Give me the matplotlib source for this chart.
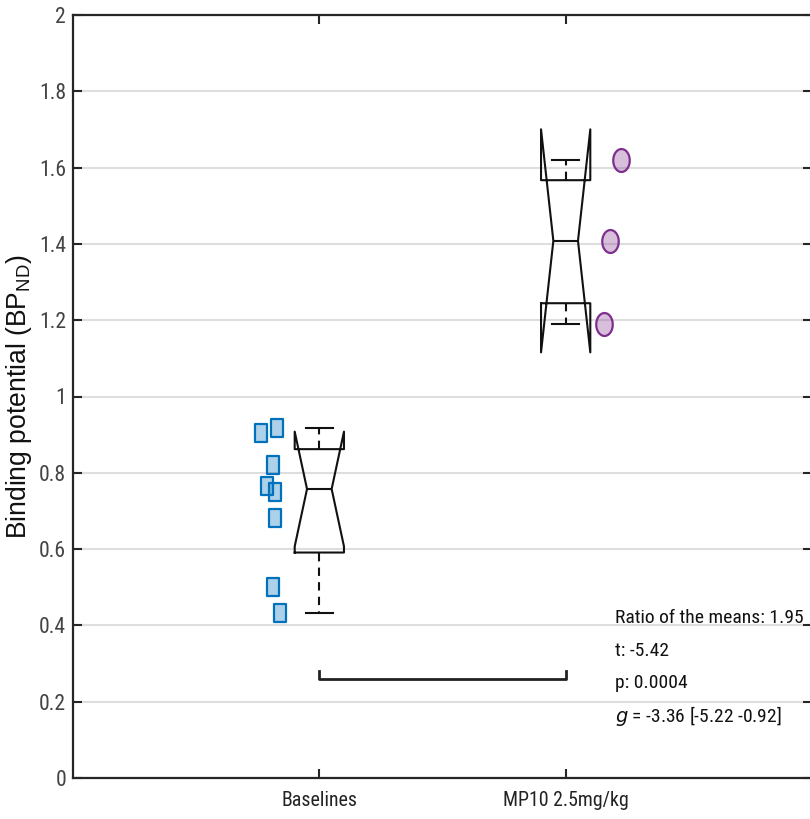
import os
import numpy as np
import matplotlib
matplotlib.use("Agg")
import matplotlib.pyplot as plt
from matplotlib.path import Path
from matplotlib import font_manager
from matplotlib.font_manager import FontProperties

# ---------------- data ----------------
categories = ["Baselines", "MP10 2.5mg/kg"]
baseline_vals = [0.904, 0.917, 0.820, 0.765, 0.750, 0.681, 0.501, 0.432]
baseline_x = [0.764, 0.829, 0.813, 0.789, 0.821, 0.821, 0.813, 0.841]
mp10_vals = [1.620, 1.408, 1.190]
mp10_x = [2.224, 2.179, 2.154]
sig_y = 0.26
stat_lines = ["Ratio of the means: 1.95", "t: -5.42", "p: 0.0004",
              r"$\mathit{g}$ = -3.36 [-5.22 -0.92]"]
yticks = [0, 0.2, 0.4, 0.6, 0.8, 1, 1.2, 1.4, 1.6, 1.8, 2]

# ---------------- fonts: prefer a narrow sans ----------------
files = [f.fname for f in font_manager.fontManager.ttflist]
def find(patterns):
    for p in patterns:
        for f in files:
            if os.path.basename(f).lower() == p.lower():
                return f
    return None

narrow_file = find(["LiberationSansNarrow-Regular.ttf", "NotoSans-Condensed.ttf",
                    "RobotoCondensed-Regular.ttf", "DejaVuSansCondensed.ttf"])
narrow_it_file = find(["LiberationSansNarrow-Italic.ttf", "NotoSans-CondensedItalic.ttf",
                       "RobotoCondensed-Italic.ttf", "DejaVuSansCondensed-Oblique.ttf"])
if narrow_file:
    fp_main = FontProperties(fname=narrow_file)
    narrow_name = fp_main.get_name()
else:
    fp_main = FontProperties(family=["Liberation Sans", "DejaVu Sans"])
    narrow_name = "Liberation Sans"

plt.rcParams["font.family"] = [narrow_name, "DejaVu Sans"]
plt.rcParams["mathtext.fontset"] = "custom"
plt.rcParams["mathtext.rm"] = "Liberation Sans"
plt.rcParams["mathtext.it"] = (FontProperties(fname=narrow_it_file).get_name() + ":italic"
                               if narrow_it_file else "Liberation Sans:italic")

fig = plt.figure(figsize=(8.1, 8.19), dpi=100)
ax = fig.add_axes([73 / 810, 1 - 778 / 819, (812 - 73) / 810, (778 - 15) / 819])


def matlab_stats(vals, label):
    v = np.asarray(vals)
    q1, med, q3 = np.percentile(v, [25, 50, 75], method="hazen")
    iqr = q3 - q1
    n = len(v)
    ci = 1.57 * iqr / np.sqrt(n)
    lo_lim, hi_lim = q1 - 1.5 * iqr, q3 + 1.5 * iqr
    return dict(med=med, q1=q1, q3=q3, cilo=med - ci, cihi=med + ci,
                whislo=v[v >= lo_lim].min(), whishi=v[v <= hi_lim].max(),
                fliers=[], label=label)


stats = [matlab_stats(baseline_vals, categories[0]),
         matlab_stats(mp10_vals, categories[1])]

lc = "#111111"
ax.bxp(stats, positions=[1, 2], widths=0.2, shownotches=True,
       showfliers=False, capwidths=0.11,
       boxprops=dict(color=lc, linewidth=1.5),
       medianprops=dict(color=lc, linewidth=1.5),
       whiskerprops=dict(color=lc, linewidth=1.5, linestyle=(0, (4, 3))),
       capprops=dict(color=lc, linewidth=1.5), zorder=3)

# markers (slightly tall shapes as in the reference)
sq = Path([(-0.34, -0.5), (0.34, -0.5), (0.34, 0.5), (-0.34, 0.5), (-0.34, -0.5)],
          [Path.MOVETO, Path.LINETO, Path.LINETO, Path.LINETO, Path.CLOSEPOLY])
t = np.linspace(0, 2 * np.pi, 60)
ell = Path(np.column_stack([0.36 * np.cos(t), 0.5 * np.sin(t)]))

ax.plot(baseline_x, baseline_vals, linestyle="none", marker=sq, markersize=13.5,
        markeredgecolor="#0072BD", markerfacecolor=(0, 0.447, 0.741, 0.32),
        markeredgewidth=1.6, zorder=4)
ax.plot(mp10_x, mp10_vals, linestyle="none", marker=ell, markersize=16.5,
        markeredgecolor="#7E2F8E", markerfacecolor=(0.494, 0.184, 0.557, 0.3),
        markeredgewidth=1.6, zorder=4)

# significance bar
ax.plot([1, 1, 2, 2], [sig_y + 0.02, sig_y, sig_y, sig_y + 0.02],
        color="#222222", linewidth=2.0, zorder=3)

# stats text
stat_texts = []
for i, s in enumerate(stat_lines):
    stat_texts.append(ax.text(2.2, 0.419 - i * 0.0855, s, fontproperties=fp_main,
                              fontsize=15, va="center", ha="left",
                              color="#111111", zorder=5))

# axes styling
ax.set_xlim(0, 3)
ax.set_ylim(0, 2)
ax.set_xticks([1, 2])
ax.set_xticklabels(categories)
ax.set_yticks(yticks)
ax.set_yticklabels([f"{v:g}" for v in yticks])
ax.yaxis.grid(True, color="#dedede", linewidth=1.5)
ax.xaxis.grid(False)
ax.set_axisbelow(True)
for sp in ax.spines.values():
    sp.set_color("#262626")
    sp.set_linewidth(1.6)
ax.tick_params(axis="both", direction="in", length=6.5, width=1.5,
               color="#262626", top=True, right=True)
ax.tick_params(axis="y", labelcolor="#444444", pad=5)
ax.tick_params(axis="x", labelcolor="#222222", pad=9)
for lab in ax.get_xticklabels() + ax.get_yticklabels():
    lab.set_fontproperties(fp_main)

ylab = ax.set_ylabel(r"Binding potential (BP$_{\mathrm{ND}}$)", fontsize=17,
                     family=["Liberation Sans", "DejaVu Sans"], color="#111111")

# ---- fit text sizes to the widths measured on the reference ----
fig.canvas.draw()
r = fig.canvas.get_renderer()

def scale_to(text, base, target_px, horizontal=True):
    bb = text.get_window_extent(r)
    w = bb.width if horizontal else bb.height
    return base * target_px / w if w > 0 else base

s_stat = scale_to(stat_texts[0], 15, 188)
for tx in stat_texts:
    tx.set_fontsize(s_stat)

xl = ax.get_xticklabels()
for lab in xl:
    lab.set_fontsize(15)
fig.canvas.draw()
s_x = scale_to(xl[0], 15, 76)

yl = ax.get_yticklabels()
for lab in yl:
    lab.set_fontsize(16)
fig.canvas.draw()
s_y = scale_to(yl[9], 16, 27)
for lab in ax.get_xticklabels() + ax.get_yticklabels():
    lab.set_fontproperties(fp_main)
ax.tick_params(axis="x", labelsize=s_x)
ax.tick_params(axis="y", labelsize=s_y)

fig.canvas.draw()
s_l = scale_to(ylab, 17, 285, horizontal=False)
ylab.set_fontsize(s_l)
ax.yaxis.set_label_coords((34 - 73) / 739, 0.5)

fig.savefig("out.png", dpi=100)
